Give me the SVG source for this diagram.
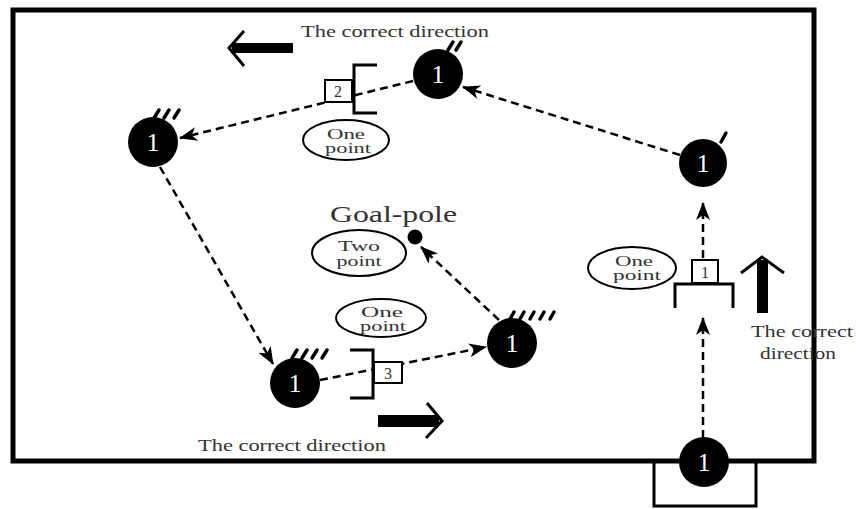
<svg xmlns="http://www.w3.org/2000/svg" width="856" height="509" viewBox="0 0 856 509">
<style>
.node{fill:#000}
.nt{fill:#fff;font-family:"Liberation Serif",serif;font-size:26px;text-anchor:middle}
.dash{fill:none;stroke:#000;stroke-width:2.5;stroke-dasharray:8 5}
.lbl{font-family:"Liberation Serif",serif;fill:#333}
.ell{fill:#fff;stroke:#000;stroke-width:2}
.et{font-family:"Liberation Serif",serif;font-size:14px;fill:#333;text-anchor:middle}
.gate{fill:none;stroke:#000;stroke-width:3}
.gbox{fill:#fff;stroke:#000;stroke-width:2}
.gt{font-family:"Liberation Serif",serif;font-size:16px;fill:#333;text-anchor:middle}
.tick{stroke:#000;stroke-width:3.5;stroke-linecap:round}
.chev{fill:none;stroke:#000;stroke-width:3}
</style>
<defs>
<marker id="ah" markerUnits="userSpaceOnUse" markerWidth="18" markerHeight="14" viewBox="0 0 18 14" refX="17" refY="7" orient="auto">
<path d="M0,0 L18,7 L0,14 L5,7 z" fill="#000"/>
</marker>
</defs>
<rect width="856" height="509" fill="#fff"/>
<g id="field">
<rect x="13" y="10" width="801" height="451" fill="none" stroke="#000" stroke-width="5"/>
<path d="M654,461 V506 H756 V461" fill="none" stroke="#000" stroke-width="3"/>
</g>
<g id="connectors">
<line class="dash" x1="703" y1="438" x2="703" y2="318" marker-end="url(#ah)"/>
<line class="dash" x1="703" y1="258" x2="703" y2="203" marker-end="url(#ah)"/>
<line class="dash" x1="680" y1="155" x2="463" y2="87" marker-end="url(#ah)"/>
<line class="dash" x1="413" y1="81" x2="180" y2="138" marker-end="url(#ah)"/>
<line class="dash" x1="160" y1="167" x2="273" y2="364" marker-end="url(#ah)"/>
<line class="dash" x1="320" y1="380" x2="486" y2="347" marker-end="url(#ah)"/>
<line class="dash" x1="499" y1="320" x2="421" y2="247" marker-end="url(#ah)"/>
</g>
<g id="gate1">
<path class="gate" d="M675,308 V284 H733 V308"/>
<rect class="gbox" x="692" y="260" width="26" height="23"/>
<text class="gt" x="705" y="278">1</text>
</g>
<g id="gate2">
<path class="gate" d="M377,65 H354 V113 H377"/>
<rect class="gbox" x="325" y="80" width="27" height="22"/>
<text class="gt" x="338" y="97">2</text>
</g>
<g id="gate3">
<path class="gate" d="M350,350 H373 V398 H350"/>
<rect class="gbox" x="374" y="362" width="28" height="21"/>
<text class="gt" x="388" y="379">3</text>
</g>
<g id="label-one-a">
<ellipse class="ell" cx="346" cy="140" rx="43" ry="20"/>
<text class="et" x="346" y="139" textLength="38" lengthAdjust="spacingAndGlyphs">One</text>
<text class="et" x="348" y="153" textLength="46" lengthAdjust="spacingAndGlyphs">point</text>
</g>
<g id="label-two">
<ellipse class="ell" cx="359" cy="253" rx="47" ry="23"/>
<text class="et" x="359" y="251" font-size="15" textLength="42" lengthAdjust="spacingAndGlyphs">Two</text>
<text class="et" x="359" y="266" font-size="15" textLength="45" lengthAdjust="spacingAndGlyphs">point</text>
</g>
<g id="label-one-b">
<ellipse class="ell" cx="381" cy="318" rx="45" ry="19"/>
<text class="et" x="382" y="317" textLength="42" lengthAdjust="spacingAndGlyphs">One</text>
<text class="et" x="383" y="331" textLength="46" lengthAdjust="spacingAndGlyphs">point</text>
</g>
<g id="label-one-c">
<ellipse class="ell" cx="632" cy="268" rx="44" ry="21"/>
<text class="et" x="634" y="266" textLength="38" lengthAdjust="spacingAndGlyphs">One</text>
<text class="et" x="637" y="280" textLength="48" lengthAdjust="spacingAndGlyphs">point</text>
</g>
<g id="goal-pole">
<circle cx="415" cy="237" r="7.5" fill="#000"/>
<text class="lbl" x="330" y="222" font-size="24" textLength="127" lengthAdjust="spacingAndGlyphs">Goal-pole</text>
</g>
<g id="node-start">
<circle class="node" cx="704" cy="462" r="25"/>
<text class="nt" x="704" y="471">1</text>
</g>
<g id="node-1p">
<circle class="node" cx="703" cy="163" r="24"/>
<text class="nt" x="703" y="172">1</text>
<line class="tick" x1="721" y1="142" x2="726" y2="133"/>
</g>
<g id="node-2p">
<circle class="node" cx="438" cy="74" r="25"/>
<text class="nt" x="438" y="83">1</text>
<line class="tick" x1="448" y1="50" x2="453" y2="42"/>
<line class="tick" x1="456" y1="50" x2="461" y2="42"/>
</g>
<g id="node-3p">
<circle class="node" cx="153" cy="142" r="25"/>
<text class="nt" x="153" y="151">1</text>
<line class="tick" x1="154" y1="118" x2="159" y2="110"/>
<line class="tick" x1="164" y1="118" x2="169" y2="110"/>
<line class="tick" x1="174" y1="118" x2="179" y2="110"/>
</g>
<g id="node-4p">
<circle class="node" cx="295" cy="383" r="25"/>
<text class="nt" x="295" y="392">1</text>
<line class="tick" x1="292" y1="358" x2="297" y2="350"/>
<line class="tick" x1="302" y1="358" x2="307" y2="350"/>
<line class="tick" x1="312" y1="358" x2="317" y2="350"/>
<line class="tick" x1="322" y1="358" x2="327" y2="350"/>
</g>
<g id="node-5p">
<circle class="node" cx="512" cy="343" r="25"/>
<text class="nt" x="512" y="352">1</text>
<line class="tick" x1="510" y1="319" x2="514" y2="312"/>
<line class="tick" x1="520" y1="319" x2="524" y2="312"/>
<line class="tick" x1="530" y1="319" x2="534" y2="312"/>
<line class="tick" x1="540" y1="319" x2="544" y2="312"/>
<line class="tick" x1="550" y1="319" x2="554" y2="312"/>
</g>
<g id="dir-top">
<rect x="232" y="43" width="61" height="10" fill="#000"/>
<polyline class="chev" points="244,31 229,48 244,66"/>
<text class="lbl" x="301" y="37" font-size="17" textLength="188" lengthAdjust="spacingAndGlyphs">The correct direction</text>
</g>
<g id="dir-right">
<rect x="757" y="260" width="11" height="53" fill="#000"/>
<polyline class="chev" points="741,273 762,257 784,273"/>
<text class="lbl" x="751" y="337" font-size="17" textLength="102" lengthAdjust="spacingAndGlyphs">The correct</text>
<text class="lbl" x="760" y="359" font-size="17" textLength="76" lengthAdjust="spacingAndGlyphs">direction</text>
</g>
<g id="dir-bottom">
<rect x="378" y="415" width="61" height="12" fill="#000"/>
<polyline class="chev" points="427,403 442,421 426,438"/>
<text class="lbl" x="198" y="451" font-size="17" textLength="188" lengthAdjust="spacingAndGlyphs">The correct direction</text>
</g>
</svg>
